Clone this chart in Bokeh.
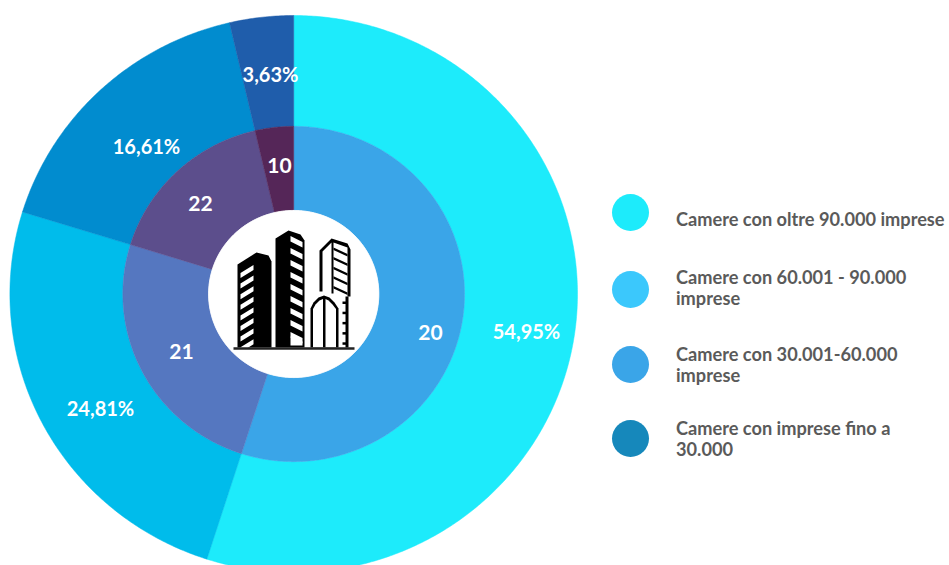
import numpy as np
from bokeh.plotting import figure
from bokeh.models import Range1d
from bokeh.core.properties import value
from bokeh.embed import file_html
from bokeh.resources import INLINE

# --- data -------------------------------------------------------------
shares = [54.95, 24.81, 16.61, 3.63]
share_labels = ["54,95%", "24,81%", "16,61%", "3,63%"]
counts = [20, 21, 22, 10]
legend_labels = [
    ["Camere con oltre 90.000 imprese"],
    ["Camere con 60.001 - 90.000", "imprese"],
    ["Camere con 30.001-60.000", "imprese"],
    ["Camere con imprese fino a", "30.000"],
]
outer_colors = ["#1DEBFB", "#00BCEB", "#018CCF", "#1F5DAB"]
inner_colors = ["#3AA5E8", "#5577C0", "#5C4E8C", "#552658"]
legend_colors = ["#1DEBFB", "#3BC8FC", "#3AA5E8", "#1688BB"]

# --- layout (page pixels) ---------------------------------------------
W, H = 949, 565
CX, CY, RX, RY = 293.2, 293.5, 283.8, 278.5
R_INNER = 0.602
R_HOLE = 0.30
share_lx = [526, 100, 146, 270]
share_ly = [330, 407, 145, 73]
count_lx = [430, 181, 200, 279]
count_ly = [332, 351, 203, 165]
legend_dot_y = [212, 289, 364, 438]
legend_line_y = [[218], [276, 297], [353, 374], [427, 448]]

p = figure(width=W, height=H, output_backend="svg", toolbar_location=None,
           x_range=Range1d(0, W), y_range=Range1d(H, 0),
           min_border=0, outline_line_color=None, background_fill_color="white",
           border_fill_color="white")
p.axis.visible = False
p.grid.visible = False


def ring(a0, a1, r0, r1):
    t = np.radians(np.linspace(a0, a1, max(int(a1 - a0) * 2, 8)))
    xs = np.concatenate([np.sin(t) * r1, np.sin(t[::-1]) * r0])
    ys = np.concatenate([-np.cos(t) * r1, -np.cos(t[::-1]) * r0])
    return list(CX + xs * RX), list(CY + ys * RY)


total = sum(shares)
edges = np.concatenate([[0], np.cumsum(shares)]) / total * 360
for radii, colors in (((R_INNER, 1.0), outer_colors), ((R_HOLE, R_INNER), inner_colors)):
    xs, ys = [], []
    for i in range(len(shares)):
        x, y = ring(edges[i], edges[i + 1], *radii)
        xs.append(x)
        ys.append(y)
    p.patches(xs, ys, fill_color=colors, line_color=colors, line_width=0.5)

hx, hy = ring(0, 360, 0, R_HOLE)
p.patch(hx, hy, fill_color="white", line_color="white")

# --- building icon ----------------------------------------------------
K = "#000000"
BASE = 347
def poly(x, y, c=K, lw=0.0):
    p.patch(x, y, fill_color=c, line_color=None)

# left tower
poly([237, 237, 256, 268, 271, 271], [BASE, 264, 252, 255, 261, BASE])
for i in range(8):
    y0 = 270 + i * 10.6
    poly([240, 240, 253, 253], [y0 + 7.5, y0 + 2.5, y0 - 5.5, y0 - 0.5], "white")
# middle tower
poly([275, 275, 288, 300, 304, 304], [BASE, 238, 230, 234, 240, BASE])
for i in range(9):
    y0 = 235 + i * 12
    poly([290, 290, 302, 302], [y0 + 6, y0 + 0.5, y0 + 6.5, y0 + 12], "white")
poly([290, 302, 302, 290], [345, 345, 341, 336], "white")
# right tower: outline
poly([319, 319, 331, 347, 350, 350, 347, 347, 333, 333, 331, 331, 322, 322],
     [291, 250, 238, 243, 249, 296, 296, 247, 242, 293, 293, 242, 251, 291])
# right tower: stripes
for i in range(5):
    y0 = 248 + i * 9.6
    poly([333, 333, 347, 347], [y0 + 1.5, y0 - 1, y0 + 5.5, y0 + 8])
# right edge with notches
poly([345, 345, 348, 348], [296, BASE, BASE, 296])
for i in range(5):
    yn = 301 + i * 10.2
    poly([342, 342, 346, 346], [yn, yn + 2.5, yn + 2.5, yn])
# front block
ax = [310, 310, 313, 318, 323.5, 329, 334, 338, 338]
ay = [BASE, 308, 302, 297, 295, 297, 302, 308, BASE]
poly(ax, ay)
poly([312.5, 312.5, 315, 319, 322.5, 322.5], [BASE, 308.5, 304, 300, 298.5, BASE], "white")
poly([325, 325, 328, 332, 335.5, 335.5], [BASE, 298.5, 300, 304, 308.5, BASE], "white")
# base line
p.line([233, 354], [348, 348], line_color="#222222", line_width=2.5)

# --- labels -----------------------------------------------------------
p.text(share_lx, share_ly, text=share_labels, text_color="white",
       text_font=value("Lato"), text_font_style="bold", text_font_size="20px",
       text_align="center", text_baseline="middle")
p.text(count_lx, count_ly, text=[str(c) for c in counts], text_color="white",
       text_font=value("Lato"), text_font_style="bold", text_font_size="21px",
       text_align="center", text_baseline="middle")

# --- legend -----------------------------------------------------------
p.scatter([630] * 4, legend_dot_y, size=37, marker="circle",
          fill_color=legend_colors, line_color=legend_colors, line_width=0)
tx, ty, tt = [], [], []
for lines, ys in zip(legend_labels, legend_line_y):
    for s, y in zip(lines, ys):
        tx.append(675.5); ty.append(y); tt.append(s)
p.text(tx, ty, text=tt, text_color="#5A5A5A", text_font=value("Lato"),
       text_font_style="bold", text_font_size="18.2px",
       text_align="left", text_baseline="middle")

open("out.html", "w").write(file_html(p, INLINE))
